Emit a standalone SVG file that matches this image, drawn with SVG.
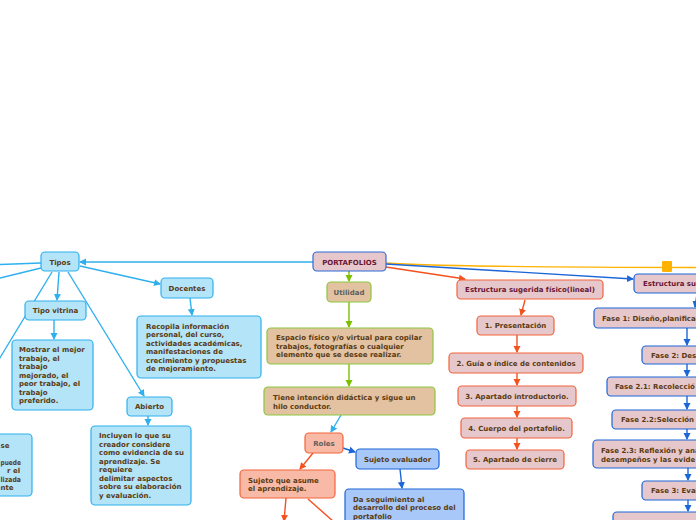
<svg xmlns="http://www.w3.org/2000/svg" width="696" height="520" viewBox="0 0 696 520">
<defs>
<style>
text{font-family:"DejaVu Sans","Verdana",sans-serif;font-size:7px;font-weight:bold;fill:#5a3a12}
.c{text-anchor:middle}
.g{fill:#5e5e5e}
.m{fill:#6b1533}
.lb rect{fill:#b3e4f8;stroke:#2fb0ee;stroke-width:1.2}
.pk rect{fill:#e6c8cc;stroke:#2f6ad8;stroke-width:1.2}
.tn rect{fill:#e3c2a2;stroke:#8cc63e;stroke-width:1.2}
.or rect{fill:#f8baa6;stroke:#f4633a;stroke-width:1.2}
.po rect{fill:#e6c8cc;stroke:#f4633a;stroke-width:1.2}
.bl rect{fill:#a8c8fa;stroke:#1c66d8;stroke-width:1.2}
.pb rect{fill:#e6c8cc;stroke:#1c66d8;stroke-width:1.2}
.k{fill:none;stroke-width:1.4}
.kl{stroke:#2fb0ee}
.kg{stroke:#7cc000}
.ko{stroke:#f4511e}
.kb{stroke:#1c66d8}
.ky{stroke:#ffb300}
</style>
<marker id="al" markerWidth="8" markerHeight="8" refX="6" refY="4" orient="auto" markerUnits="userSpaceOnUse"><path d="M0,0.5 L7,4 L0,7.5 Z" fill="#2fb0ee"/></marker>
<marker id="ag" markerWidth="8" markerHeight="8" refX="6" refY="4" orient="auto" markerUnits="userSpaceOnUse"><path d="M0,0.5 L7,4 L0,7.5 Z" fill="#7cc000"/></marker>
<marker id="ao" markerWidth="8" markerHeight="8" refX="6" refY="4" orient="auto" markerUnits="userSpaceOnUse"><path d="M0,0.5 L7,4 L0,7.5 Z" fill="#f4511e"/></marker>
<marker id="ab" markerWidth="8" markerHeight="8" refX="6" refY="4" orient="auto" markerUnits="userSpaceOnUse"><path d="M0,0.5 L7,4 L0,7.5 Z" fill="#1c66d8"/></marker>
</defs>
<rect width="696" height="520" fill="#ffffff"/>
<g id="connectors">
<path class="k ky" d="M386,263 Q440,267 696,267.5"/>
<rect x="662" y="261" width="10" height="11" rx="1" fill="#ffb300"/>
<line class="k kl" x1="313" y1="262" x2="80" y2="262" marker-end="url(#al)"/>
<line class="k kl" x1="41" y1="263" x2="0" y2="264.5"/>
<line class="k kl" x1="41" y1="268" x2="0" y2="278"/>
<line class="k kl" x1="52" y1="272" x2="-5" y2="366"/>
<line class="k kl" x1="59" y1="272" x2="57" y2="300" marker-end="url(#al)"/>
<line class="k kl" x1="68" y1="272" x2="144" y2="396" marker-end="url(#al)"/>
<line class="k kl" x1="80" y1="266" x2="160" y2="284" marker-end="url(#al)"/>
<line class="k kl" x1="190" y1="298" x2="192" y2="315" marker-end="url(#al)"/>
<line class="k kl" x1="54" y1="320" x2="54" y2="339" marker-end="url(#al)"/>
<line class="k kl" x1="148" y1="416" x2="148" y2="425" marker-end="url(#al)"/>
<line class="k kg" x1="349" y1="271" x2="349" y2="281" marker-end="url(#ag)"/>
<line class="k kg" x1="349" y1="302" x2="349" y2="327" marker-end="url(#ag)"/>
<line class="k kg" x1="349" y1="364" x2="349" y2="386" marker-end="url(#ag)"/>
<line class="k kl" x1="341" y1="415" x2="331" y2="432" marker-end="url(#al)"/>
<line class="k kb" x1="343" y1="448" x2="355" y2="452" marker-end="url(#ab)"/>
<line class="k ko" x1="313" y1="453" x2="300" y2="469" marker-end="url(#ao)"/>
<line class="k ko" x1="286" y1="498" x2="284" y2="521" marker-end="url(#ao)"/>
<line class="k ko" x1="308" y1="499" x2="334" y2="522"/>
<line class="k kb" x1="400" y1="469" x2="402" y2="488" marker-end="url(#ab)"/>
<line class="k ko" x1="386" y1="267" x2="465" y2="279" marker-end="url(#ao)"/>
<line class="k kb" x1="386" y1="264" x2="633" y2="279" marker-end="url(#ab)"/>
<line class="k ko" x1="525" y1="300" x2="521" y2="315" marker-end="url(#ao)"/>
<line class="k ko" x1="517" y1="335" x2="517" y2="352" marker-end="url(#ao)"/>
<line class="k ko" x1="517" y1="373" x2="517" y2="385" marker-end="url(#ao)"/>
<line class="k ko" x1="517" y1="406" x2="517" y2="417" marker-end="url(#ao)"/>
<line class="k ko" x1="517" y1="438" x2="517" y2="449" marker-end="url(#ao)"/>
<line class="k kb" x1="697" y1="294" x2="695" y2="307" marker-end="url(#ab)"/>
<line class="k kb" x1="687" y1="328" x2="687" y2="345" marker-end="url(#ab)"/>
<line class="k kb" x1="687" y1="364" x2="687" y2="376" marker-end="url(#ab)"/>
<line class="k kb" x1="687" y1="396" x2="687" y2="409" marker-end="url(#ab)"/>
<line class="k kb" x1="687" y1="429" x2="687" y2="439" marker-end="url(#ab)"/>
<line class="k kb" x1="688" y1="468" x2="688" y2="480" marker-end="url(#ab)"/>
<line class="k kb" x1="688" y1="500" x2="688" y2="511" marker-end="url(#ab)"/>
</g>
<g id="portafolios" class="pk"><rect x="313" y="252" width="73" height="19" rx="4"/><text class="c m" x="349.5" y="264.5">PORTAFOLIOS</text></g>
<g id="tipos" class="lb"><rect x="41" y="252" width="38" height="19" rx="4"/><text class="c" x="60" y="264.5">Tipos</text></g>
<g id="docentes" class="lb"><rect x="161" y="278" width="52" height="20" rx="4"/><text class="c" x="187" y="290.5">Docentes</text></g>
<g id="recopila" class="lb"><rect x="137" y="316" width="124" height="62" rx="4"/>
<text x="146" y="328.5">Recopila información</text><text x="146" y="337">personal, del curso,</text><text x="146" y="345.5">actividades académicas,</text><text x="146" y="354">manifestaciones de</text><text x="146" y="362.5">crecimiento y propuestas</text><text x="146" y="371">de mejoramiento.</text></g>
<g id="tipo-vitrina" class="lb"><rect x="25" y="301" width="61" height="19" rx="4"/><text class="c" x="55.5" y="313">Tipo vitrina</text></g>
<g id="mostrar" class="lb"><rect x="12" y="340" width="81" height="70" rx="4"/>
<text x="19" y="352">Mostrar el mejor</text><text x="19" y="360.5">trabajo, el</text><text x="19" y="369">trabajo</text><text x="19" y="377.5">mejorado, el</text><text x="19" y="386">peor trabajo, el</text><text x="19" y="394.5">trabajo</text><text x="19" y="403">preferido.</text></g>
<g id="left-box" class="lb"><rect x="-10" y="434" width="42" height="62" rx="4"/>
<text x="0.5" y="447.5">se</text><text x="0.5" y="464.5" textLength="20.5" lengthAdjust="spacingAndGlyphs">puede</text><text x="7" y="473">r el</text><text x="0.5" y="481.5" textLength="20.5" lengthAdjust="spacingAndGlyphs">lizada</text><text x="0.5" y="490">nte</text></g>
<g id="abierto" class="lb"><rect x="127" y="397" width="45" height="19" rx="4"/><text class="c" x="149.5" y="409">Abierto</text></g>
<g id="incluyen" class="lb"><rect x="91" y="426" width="100" height="79" rx="4"/>
<text x="99" y="438">Incluyen lo que su</text><text x="99" y="446.5">creador considere</text><text x="99" y="455">como evidencia de su</text><text x="99" y="463.5">aprendizaje. Se</text><text x="99" y="472">requiere</text><text x="99" y="480.5">delimitar aspectos</text><text x="99" y="489">sobre su elaboración</text><text x="99" y="497.5">y evaluación.</text></g>
<g id="utilidad" class="tn"><rect x="327" y="282" width="44" height="20" rx="4"/><text class="c g" x="349" y="294.5">Utilidad</text></g>
<g id="espacio" class="tn"><rect x="267" y="328" width="166" height="36" rx="4"/>
<text x="276" y="340">Espacio físico y/o virtual para copilar</text><text x="276" y="348.5">trabajos, fotografías o cualquier</text><text x="276" y="357">elemento que se desee realizar.</text></g>
<g id="tiene" class="tn"><rect x="264" y="387" width="171" height="28" rx="4"/>
<text x="273" y="400">Tiene intención didáctica y sigue un</text><text x="273" y="408.5">hilo conductor.</text></g>
<g id="roles" class="or"><rect x="305" y="433" width="38" height="20" rx="4"/><text class="c g" x="324" y="445.5">Roles</text></g>
<g id="sujeto-evaluador" class="bl"><rect x="356" y="449" width="83" height="20" rx="4"/><text class="c" x="397.5" y="461.5">Sujeto evaluador</text></g>
<g id="sujeto-asume" class="or"><rect x="240" y="470" width="95" height="28" rx="4"/>
<text x="248" y="482.5">Sujeto que asume</text><text x="248" y="491">el aprendizaje.</text></g>
<g id="da-seguimiento" class="bl"><rect x="345" y="489" width="119" height="40" rx="4"/>
<text x="353" y="501.5">Da seguimiento al</text><text x="353" y="510">desarrollo del proceso del</text><text x="353" y="518.5">portafolio</text></g>
<g id="estructura-fisico" class="po"><rect x="457" y="280" width="146" height="19" rx="4"/><text class="c m" x="530" y="292">Estructura sugerida físico(lineal)</text></g>
<g id="presentacion" class="po"><rect x="477" y="316" width="77" height="19" rx="4"/><text class="c" x="515.5" y="328">1. Presentación</text></g>
<g id="guia" class="po"><rect x="449" y="353" width="134" height="20" rx="4"/><text class="c" x="516" y="365.5">2. Guía o índice de contenidos</text></g>
<g id="apartado-intro" class="po"><rect x="458" y="386" width="118" height="20" rx="4"/><text class="c" x="517" y="398.5">3. Apartado introductorio.</text></g>
<g id="cuerpo" class="po"><rect x="461" y="418" width="111" height="20" rx="4"/><text class="c" x="516.5" y="430.5">4. Cuerpo del portafolio.</text></g>
<g id="cierre" class="po"><rect x="466" y="450" width="98" height="19" rx="4"/><text class="c" x="515" y="462">5. Apartado de cierre</text></g>
<g id="estructura-digital" class="pb"><rect x="634" y="274" width="80" height="19" rx="4"/><text class="m" x="643" y="286">Estructura sug</text></g>
<g id="fase1" class="pb"><rect x="594" y="308" width="120" height="20" rx="4"/><text x="602" y="320.5">Fase 1: Diseño,planificaci</text></g>
<g id="fase2" class="pb"><rect x="642" y="346" width="70" height="18" rx="4"/><text x="651" y="357.5">Fase 2: Des</text></g>
<g id="fase21" class="pb"><rect x="607" y="377" width="100" height="19" rx="4"/><text x="615" y="389">Fase 2.1: Recolecció</text></g>
<g id="fase22" class="pb"><rect x="612" y="410" width="100" height="19" rx="4"/><text x="621" y="422">Fase 2.2:Selección</text></g>
<g id="fase23" class="pb"><rect x="593" y="440" width="120" height="28" rx="4"/><text x="601" y="452.5">Fase 2.3: Reflexión y ana</text><text x="601" y="461.5">desempeños y las evide</text></g>
<g id="fase3" class="pb"><rect x="642" y="481" width="70" height="19" rx="4"/><text x="651" y="493">Fase 3: Eval</text></g>
<g id="fase4" class="pb"><rect x="613" y="512" width="100" height="20" rx="4"/></g>
</svg>
